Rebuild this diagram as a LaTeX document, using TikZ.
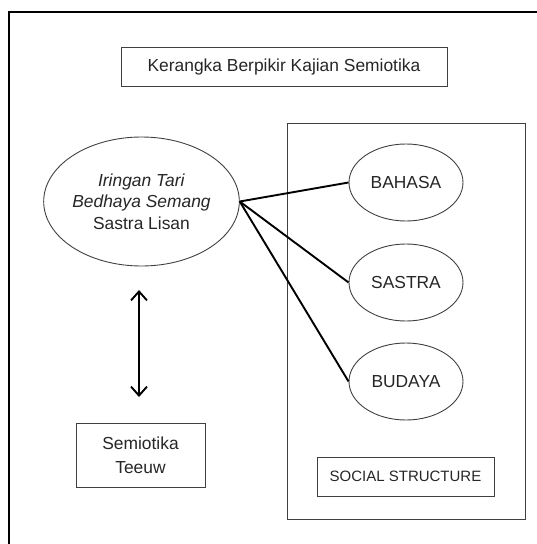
\documentclass[tikz,border=0pt]{standalone}
\usepackage{fontspec}
\setmainfont{Liberation Sans}
\usetikzlibrary{arrows.meta,shapes.geometric}
\definecolor{boxline}{HTML}{404040}
\definecolor{txt}{HTML}{262626}
\begin{document}
\begin{tikzpicture}[x=1pt,y=-1pt,
  box/.style={draw=boxline,line width=0.9pt,text=txt,inner sep=0pt,font=\fontsize{17.4}{24}\selectfont},
  ell/.style={draw=boxline,line width=0.9pt,ellipse,text=txt,inner sep=0pt,align=center,font=\fontsize{17.4}{21.5}\selectfont},
  conn/.style={line width=1.9pt,black}]
\useasboundingbox (0,0) rectangle (536,544);
\draw[line width=2.4pt,black] (9,560) -- (9,12) -- (550,12);
\node[box,minimum width=326pt,minimum height=39pt] (title) at (284,66.5) {Kerangka Berpikir Kajian Semiotika};
\draw[draw=boxline,line width=0.9pt] (287,123) rectangle (525,519);
\node[ell,minimum width=193pt,minimum height=129pt] (src) at (141.5,201.5) {\textit{Iringan Tari}\\\textit{Bedhaya Semang}\\Sastra Lisan};
\node[ell,minimum width=114pt,minimum height=77pt] (bahasa) at (406,182.5) {BAHASA};
\node[ell,minimum width=114pt,minimum height=77pt] (sastra) at (406,282.5) {SASTRA};
\node[ell,minimum width=114pt,minimum height=77pt] (budaya) at (406,381.5) {BUDAYA};
\node[box,minimum width=177pt,minimum height=39pt,font=\fontsize{15}{18}\selectfont] (social) at (405.5,476.5) {SOCIAL STRUCTURE};
\node[box,minimum width=129pt,minimum height=64pt,align=center] (teeuw) at (140.5,455) {Semiotika\\Teeuw};
\coordinate (a1) at (139,290);
\coordinate (a2) at (139,397);
\draw[conn,{Straight Barb[length=9pt,width=16pt]}-{Straight Barb[length=9pt,width=16pt]}] (a1) -- (a2);
\draw[conn] (src.east) -- (bahasa.west);
\draw[conn] (src.east) -- (sastra.west);
\draw[conn] (src.east) -- (budaya.west);
\end{tikzpicture}
\end{document}
